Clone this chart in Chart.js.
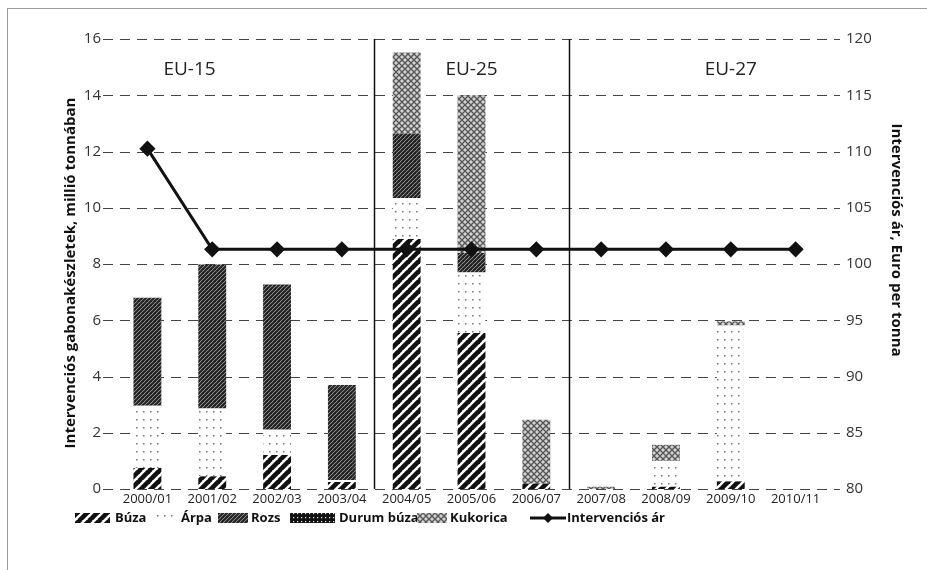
<!DOCTYPE html>
<html>
<head>
<meta charset="utf-8">
<script src="https://cdn.jsdelivr.net/npm/chart.js@4.4.1/dist/chart.umd.min.js"></script>
<style>
  body { margin: 0; background: #fff; }
  canvas { display: block; }
</style>
</head>
<body>
<canvas id="chart" width="927" height="570"></canvas>
<script>
const years = ['2000/01', '2001/02', '2002/03', '2003/04', '2004/05', '2005/06', '2006/07', '2007/08', '2008/09', '2009/10', '2010/11'];

// millió tonna, bottom to top of each stack
const buza     = [0.75, 0.45, 1.21, 0.25, 8.89, 5.55, 0.19, 0,    0.08, 0.27, 0];
const arpa     = [2.21, 2.41, 0.90, 0.07, 1.46, 2.15, 0,    0,    0.92, 5.54, 0];
const rozs     = [3.84, 5.12, 5.16, 3.38, 2.28, 0.69, 0,    0,    0,    0,    0];
const durum    = [0,    0,    0,    0,    0,    0,    0,    0,    0,    0,    0];
const kukorica = [0,    0,    0,    0,    2.89, 5.61, 2.27, 0.08, 0.57, 0.15, 0];

// Euro per tonna
const intervPrice = [110.25, 101.31, 101.31, 101.31, 101.31, 101.31, 101.31, 101.31, 101.31, 101.31, 101.31];

const leftTicks = [0, 2, 4, 6, 8, 10, 12, 14, 16];
const rightTicks = [80, 85, 90, 95, 100, 105, 110, 115, 120];

const periods = [
  { label: 'EU-15', at: 0.65 },
  { label: 'EU-25', at: 5.0 },
  { label: 'EU-27', at: 9.0 }
];
const periodBreaks = [3.5, 6.5];

const FONT = '"Open Sans", "Noto Sans", sans-serif';

function makePattern(w, h, draw) {
  const c = document.createElement('canvas');
  c.width = w; c.height = h;
  const g = c.getContext('2d');
  draw(g, w, h);
  return c.getContext('2d').createPattern(c, 'repeat');
}

function stripes(g, s, bg, fg, lw) {
  g.fillStyle = bg;
  g.fillRect(0, 0, s, s);
  g.strokeStyle = fg;
  g.lineWidth = lw;
  for (let k = -s; k <= s; k += s) {
    g.beginPath();
    g.moveTo(k - 1, s + 1);
    g.lineTo(k + s + 1, -1);
    g.stroke();
  }
}

const patBuza = makePattern(10, 10, (g, s) => stripes(g, s, '#fff', '#111', 4.6));
const patRozs = makePattern(4, 4, (g, s) => stripes(g, s, '#a8a8a8', '#222', 2.2));
const patArpa = makePattern(7, 8, g => {
  g.fillStyle = '#fff'; g.fillRect(0, 0, 7, 8);
  g.fillStyle = '#777'; g.fillRect(3, 3, 1.5, 1.5);
});
const patDurum = makePattern(4, 4, g => {
  g.fillStyle = '#111'; g.fillRect(0, 0, 4, 4);
  g.fillStyle = '#eee'; g.fillRect(1, 1, 1.2, 1.2);
});
const patKuk = makePattern(6, 6, g => {
  g.fillStyle = '#d2d2d2'; g.fillRect(0, 0, 6, 6);
  g.strokeStyle = '#555'; g.lineWidth = 1.3;
  g.beginPath();
  g.moveTo(0, 0); g.lineTo(6, 6);
  g.moveTo(6, 0); g.lineTo(0, 6);
  g.stroke();
});

const legendItems = [
  { text: 'Búza', fill: patBuza, box: 75, w: 35, tx: 115 },
  { text: 'Árpa', fill: patArpa, box: 152, w: 26, tx: 181 },
  { text: 'Rozs', fill: patRozs, box: 218, w: 30, tx: 251 },
  { text: 'Durum búza', fill: patDurum, box: 290, w: 45, tx: 339 },
  { text: 'Kukorica', fill: patKuk, box: 417, w: 30, tx: 450 },
  { text: 'Intervenciós ár', line: true, box: 530, w: 36, tx: 567 }
];

const decorations = {
  id: 'decorations',
  beforeDraw(chart) {
    const ctx = chart.ctx;
    ctx.save();
    ctx.fillStyle = '#fff';
    ctx.fillRect(0, 0, chart.width, chart.height);
    ctx.strokeStyle = '#9a9a9a';
    ctx.lineWidth = 1;
    ctx.strokeRect(7.5, 8.5, chart.width + 10, chart.height + 10);
    ctx.restore();
  },
  beforeDatasetsDraw(chart) {
    const ctx = chart.ctx;
    const x = chart.scales.x, y = chart.scales.y;
    const area = chart.chartArea;
    const step = x.getPixelForValue(1) - x.getPixelForValue(0);
    ctx.save();
    // dashed gridlines, reaching a little past both sides of the plot
    ctx.strokeStyle = '#444';
    ctx.lineWidth = 1;
    ctx.setLineDash([10, 7]);
    y.ticks.forEach(t => {
      const py = Math.round(y.getPixelForValue(t.value)) + 0.5;
      ctx.beginPath();
      ctx.moveTo(area.left - 12, py);
      ctx.lineTo(area.right + 12, py);
      ctx.stroke();
    });
    ctx.setLineDash([]);
    ctx.strokeStyle = '#111';
    ctx.lineWidth = 1.5;
    periodBreaks.forEach(b => {
      const px = Math.round(x.getPixelForValue(0) + b * step) + 0.5;
      ctx.beginPath();
      ctx.moveTo(px, y.getPixelForValue(16));
      ctx.lineTo(px, y.getPixelForValue(0));
      ctx.stroke();
    });
    ctx.fillStyle = '#222';
    ctx.font = '19px ' + FONT;
    ctx.textAlign = 'center';
    ctx.textBaseline = 'middle';
    periods.forEach(p => {
      ctx.fillText(p.label, x.getPixelForValue(0) + p.at * step, y.getPixelForValue(14.9));
    });
    ctx.restore();
  },
  afterDraw(chart) {
    const ctx = chart.ctx;
    ctx.save();
    // axis titles
    ctx.fillStyle = '#111';
    ctx.font = 'bold 15px ' + FONT;
    ctx.textAlign = 'center';
    ctx.textBaseline = 'middle';
    ctx.translate(71, 273);
    ctx.rotate(-Math.PI / 2);
    ctx.fillText('Intervenciós gabonakészletek, millió tonnában', 0, 0);
    ctx.restore();
    ctx.save();
    ctx.fillStyle = '#111';
    ctx.font = 'bold 15px ' + FONT;
    ctx.textAlign = 'center';
    ctx.textBaseline = 'middle';
    ctx.translate(896, 240);
    ctx.rotate(Math.PI / 2);
    ctx.fillText('Intervenciós ár, Euro per tonna', 0, 0);
    ctx.restore();

    // legend
    const ly = 518;
    ctx.save();
    ctx.font = 'bold 13px ' + FONT;
    ctx.textBaseline = 'middle';
    ctx.fillStyle = '#111';
    legendItems.forEach(it => {
      if (it.line) {
        ctx.strokeStyle = '#111';
        ctx.lineWidth = 3;
        ctx.beginPath();
        ctx.moveTo(it.box, ly);
        ctx.lineTo(it.box + it.w, ly);
        ctx.stroke();
        const cx = it.box + it.w / 2;
        ctx.beginPath();
        ctx.moveTo(cx, ly - 5); ctx.lineTo(cx + 5, ly); ctx.lineTo(cx, ly + 5); ctx.lineTo(cx - 5, ly);
        ctx.closePath();
        ctx.fill();
      } else {
        ctx.fillStyle = it.fill;
        ctx.fillRect(it.box, ly - 5, it.w, 10);
        ctx.fillStyle = '#111';
      }
      ctx.fillText(it.text, it.tx, ly);
    });
    ctx.restore();
  }
};

const barDefaults = { yAxisID: 'y', stack: 'grain', order: 2, borderWidth: 0, barPercentage: 0.43, categoryPercentage: 1 };

new Chart(document.getElementById('chart'), {
  data: {
    labels: years,
    datasets: [
      { type: 'line', label: 'Intervenciós ár', data: intervPrice, yAxisID: 'y1', order: 0,
        borderColor: '#111', borderWidth: 3, pointStyle: 'rectRot', pointRadius: 6,
        pointBackgroundColor: '#111', pointBorderColor: '#111', tension: 0, fill: false },
      Object.assign({ type: 'bar', label: 'Búza', data: buza, backgroundColor: patBuza }, barDefaults),
      Object.assign({ type: 'bar', label: 'Árpa', data: arpa, backgroundColor: patArpa }, barDefaults),
      Object.assign({ type: 'bar', label: 'Rozs', data: rozs, backgroundColor: patRozs }, barDefaults),
      Object.assign({ type: 'bar', label: 'Durum búza', data: durum, backgroundColor: patDurum }, barDefaults),
      Object.assign({ type: 'bar', label: 'Kukorica', data: kukorica, backgroundColor: patKuk }, barDefaults)
    ]
  },
  options: {
    responsive: false,
    animation: false,
    layout: { padding: { top: 39, bottom: 0, left: 0, right: 0 } },
    plugins: { legend: { display: false }, tooltip: { enabled: false } },
    scales: {
      x: {
        stacked: true,
        grid: { display: false, drawTicks: false },
        border: { display: false },
        ticks: { color: '#222', font: { family: FONT, size: 13 }, padding: 2, maxRotation: 0, autoSkip: false },
        afterFit: s => { s.height = 81; }
      },
      y: {
        stacked: true,
        min: 0, max: 16,
        afterBuildTicks: s => { s.ticks = leftTicks.map(v => ({ value: v })); },
        grid: { display: false, drawTicks: false },
        border: { display: false },
        ticks: { color: '#333', font: { family: FONT, size: 15 }, padding: 14 },
        afterFit: s => { s.width = 115; }
      },
      y1: {
        position: 'right',
        min: 80, max: 120,
        afterBuildTicks: s => { s.ticks = rightTicks.map(v => ({ value: v })); },
        grid: { display: false, drawTicks: false },
        border: { display: false },
        ticks: { color: '#333', font: { family: FONT, size: 15 }, padding: 18 },
        afterFit: s => { s.width = 99; }
      }
    }
  },
  plugins: [decorations]
});
</script>
</body>
</html>
